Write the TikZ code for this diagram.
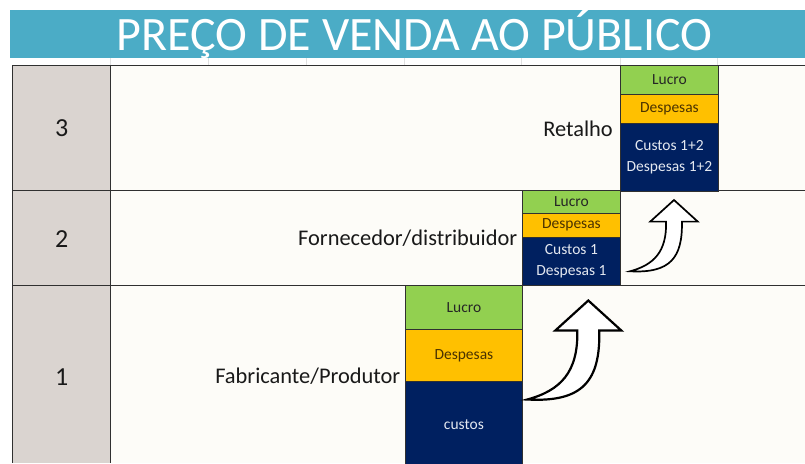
\documentclass[tikz,border=0pt]{standalone}
\usepackage{fontspec}
\setmainfont{Carlito}
\definecolor{banner}{HTML}{4BACC6}
\definecolor{graycol}{HTML}{DAD4D0}
\definecolor{cellbg}{HTML}{FDFCF8}
\definecolor{lucrog}{HTML}{92D050}
\definecolor{despo}{HTML}{FFC000}
\definecolor{navy}{HTML}{002060}
\definecolor{desptext}{HTML}{4A3200}
\definecolor{navytext}{HTML}{E4E8F0}
\definecolor{gridc}{HTML}{303030}
\tikzset{
  stackbox/.style={draw=gridc, line width=0.8pt, rectangle, anchor=north west, inner sep=0pt,
    align=center, font=\fontsize{15.5}{21}\selectfont},
  lucrobox/.style={stackbox, fill=lucrog, text=black!85},
  despbox/.style={stackbox, fill=despo, text=desptext},
  custbox/.style={stackbox, fill=navy, text=navytext},
  rowlabel/.style={anchor=base east, inner sep=0pt, font=\fontsize{22.4}{26}\selectfont, text=black!90},
  rownum/.style={anchor=base, inner sep=0pt, font=\fontsize{26}{30}\selectfont, text=black!90},
  gridline/.style={draw=gridc, line width=0.8pt},
  arrowline/.style={draw=black, fill=white, line join=miter},
  bentarrow/.pic={
    \path[arrowline] (0,0) -- (33,30) -- (11,30)
      .. controls (12,80) and (-5,102) .. (-61,99)
      .. controls (-28,90) and (-10,72) .. (-11,30)
      -- (-33,30) -- cycle;
  }
}
\begin{document}
\begin{tikzpicture}[x=1pt, y=-1pt]
\useasboundingbox (0,0) rectangle (805,463);
\fill[white] (0,0) rectangle (805,463);
% banner
\fill[banner] (10,10) rectangle (805,58);
\node[anchor=base, inner sep=0pt, text=white, font=\fontsize{48}{52}\selectfont] (title) at (414.5,50.7) {PREÇO DE VENDA AO PÚBLICO};
% faint header lines
\foreach \xx in {110,208,306,404,521,620,717}
  \draw[black!12, line width=0.6pt] (\xx,58) -- (\xx,65);
% table background
\fill[cellbg] (12,65) rectangle (805,463);
\fill[graycol] (12,65) rectangle (110,463);
% grid lines
\draw[gridline] (805,65) -- (12,65) -- (12,463);
\draw[gridline] (110,65) -- (110,463);
\draw[gridline] (12,190) -- (805,190);
\draw[gridline] (12,285) -- (805,285);
% row numbers
\node[rownum] (n3) at (61.7,136.7) {3};
\node[rownum] (n2) at (61.7,247.3) {2};
\node[rownum] (n1) at (61.7,385.7) {1};
% row labels
\node[rowlabel] (l3) at (613,136.5) {Retalho};
\node[rowlabel] (l2) at (517.5,245) {Fornecedor/distribuidor};
\node[rowlabel] (l1) at (400.5,383.3) {Fabricante/Produtor};
% stack 1
\node[lucrobox, minimum width=117pt, minimum height=44pt] (s1l) at (405,285) {Lucro};
\node[despbox, minimum width=117pt, minimum height=52pt] (s1d) at (405,329) {Despesas};
\node[custbox, minimum width=117pt, minimum height=86pt] (s1c) at (405,381) {custos};
% stack 2
\node[lucrobox, minimum width=98pt, minimum height=22.5pt] (s2l) at (522,190) {Lucro};
\node[despbox, minimum width=98pt, minimum height=24pt] (s2d) at (522,212.5) {Despesas};
\node[custbox, minimum width=98pt, minimum height=48.5pt] (s2c) at (522,236.5) {Custos 1\\Despesas 1};
% stack 3
\node[lucrobox, minimum width=98pt, minimum height=29pt] (s3l) at (620,65) {Lucro};
\node[despbox, minimum width=98pt, minimum height=28.5pt] (s3d) at (620,94) {Despesas};
\node[custbox, minimum width=98pt, minimum height=68pt] (s3c) at (620,122.5) {Custos 1+2\\Despesas 1+2};
% arrows
\pic[line width=2.2pt] at (588.3,300.5) {bentarrow};
\pic[scale=0.72, line width=1.7pt] at (674,200) {bentarrow};
\end{tikzpicture}
\end{document}
